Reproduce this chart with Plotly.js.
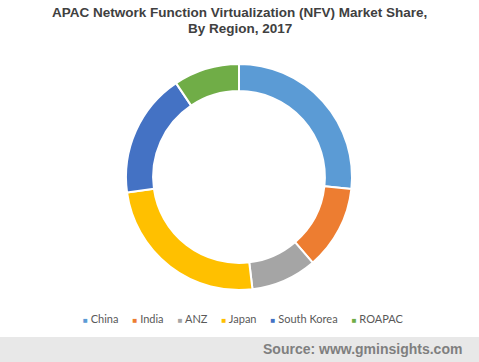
<!DOCTYPE html>
<html>
<head>
<meta charset="utf-8">
<script src="https://cdn.plot.ly/plotly-3.0.1.min.js"></script>
<style>html,body{margin:0;padding:0;background:#fff;}#chart{width:479px;height:362px;}</style>
</head>
<body>
<div id="chart"></div>
<script>
const regions = ["China", "India", "ANZ", "Japan", "South Korea", "ROAPAC"];
const shares = [26.7, 12.0, 9.4, 24.7, 17.8, 9.4];
const colors = ["#5B9BD5", "#ED7D31", "#A5A5A5", "#FFC000", "#4472C4", "#70AD47"];

const W = 479, H = 362;
const trace = {
  type: "pie",
  labels: regions,
  values: shares,
  hole: 0.76,
  sort: false,
  direction: "clockwise",
  rotation: 0,
  textinfo: "none",
  hoverinfo: "label+percent",
  marker: {colors: colors, line: {color: "#ffffff", width: 2}},
  domain: {x: [126 / W, 352 / W], y: [72 / H, 298 / H]}
};

// legend row built from the same arrays
const legendText = regions.map((r, i) =>
  '<span style="color:' + colors[i] + ';font-size:8px">■</span> ' + r
).join('&nbsp;&nbsp;&nbsp;&nbsp;&nbsp;');

const layout = {
  width: W, height: H,
  margin: {l: 0, r: 0, t: 0, b: 0},
  paper_bgcolor: "#ffffff",
  showlegend: false,
  shapes: [{
    type: "rect", xref: "paper", yref: "paper", x0: 0, x1: 1, y0: 0, y1: 25 / H,
    fillcolor: "#E8E8E8", line: {width: 0}, layer: "below"
  }],
  annotations: [
    {
      text: "<b>APAC Network Function Virtualization (NFV) Market Share,</b>",
      xref: "paper", yref: "paper", x: 0.5, xanchor: "center", y: 1 - 12 / H, yanchor: "middle",
      showarrow: false,
      font: {family: "'Liberation Sans', Arial, sans-serif", size: 13.5, color: "#404040"}
    },
    {
      text: "<b>By Region, 2017</b>",
      xref: "paper", yref: "paper", x: 0.5, xanchor: "center", y: 1 - 29 / H, yanchor: "middle",
      showarrow: false,
      font: {family: "'Liberation Sans', Arial, sans-serif", size: 13.5, color: "#404040"}
    },
    {
      text: legendText, xref: "paper", yref: "paper", x: 243 / W, xanchor: "center",
      y: 1 - 318 / H, yanchor: "middle", showarrow: false,
      font: {family: "Lato, 'Open Sans', sans-serif", size: 11, color: "#595959"}
    },
    {
      text: "<b>Source: www.gminsights.com</b>", xref: "paper", yref: "paper",
      x: 464 / W, xanchor: "right", y: 13 / H, yanchor: "middle", showarrow: false,
      font: {family: "'Liberation Sans', Arial, sans-serif", size: 14, color: "#7F7F7F"}
    }
  ]
};

Plotly.newPlot("chart", [trace], layout, {displayModeBar: false, staticPlot: true});
</script>
</body>
</html>
